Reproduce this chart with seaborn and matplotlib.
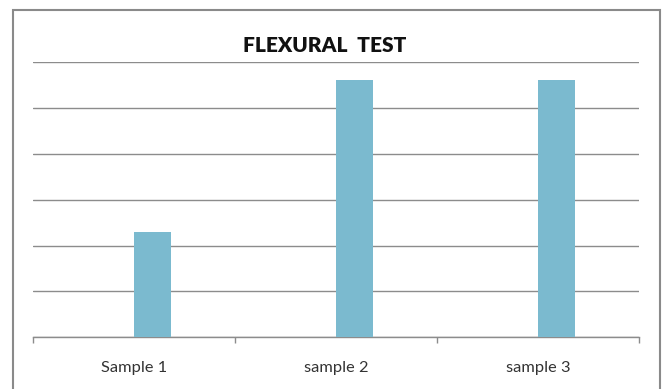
import matplotlib
matplotlib.use("Agg")
import matplotlib.pyplot as plt
from matplotlib.patches import Rectangle
from matplotlib.ticker import FixedLocator, MultipleLocator
import numpy as np
import pandas as pd
import seaborn as sns

# Flexural test results per sample
samples = ["Sample 1", "sample 2", "sample 3"]
flexural = [2.3, 5.6, 5.6]
# empty companion series that only reserves the left slot of each cluster
companion = [np.nan, np.nan, np.nan]
series_names = ["companion", "flexural"]

title = "FLEXURAL  TEST"

df = pd.DataFrame({
    "sample": samples * 2,
    "series": [series_names[0]] * 3 + [series_names[1]] * 3,
    "value": companion + flexural,
})

sns.set_theme(style="white")
plt.rcParams["font.family"] = ["Lato", "DejaVu Sans"]

W, H = 664, 389
fig = plt.figure(figsize=(W / 100, H / 100), dpi=100)
fig.patch.set_facecolor("white")
ax = fig.add_axes([33 / W, 1 - 337.3 / H, (639 - 33) / W, (337.3 - 62) / H])

sns.barplot(data=df, x="sample", y="value", hue="series", hue_order=series_names,
            order=samples, palette=["#7BBACF", "#7BBACF"], width=0.366,
            dodge=True, legend=False, saturation=1, errorbar=None, ax=ax)

ax.set_xlim(-0.5, 2.5)
ax.set_ylim(0, 6)
ax.yaxis.set_major_locator(MultipleLocator(1))
ax.set_yticklabels([])
ax.tick_params(axis="y", length=0)
ax.grid(axis="y", color="#8c8c8c", linewidth=1.0)
ax.set_axisbelow(True)
for b in ax.patches:
    b.set_edgecolor("none")
    b.set_zorder(3)

for side in ["top", "right", "left"]:
    ax.spines[side].set_visible(False)
ax.spines["bottom"].set_color("#8c8c8c")
ax.spines["bottom"].set_linewidth(1.0)

ax.set_xlabel("")
ax.set_ylabel("")
ax.xaxis.set_minor_locator(FixedLocator([-0.5, 0.5, 1.5, 2.5]))
ax.tick_params(axis="x", which="minor", bottom=True, length=4, width=1.0,
               color="#8c8c8c", direction="out")
ax.tick_params(axis="x", which="major", bottom=False, length=0, pad=17,
               labelsize=11.8, labelcolor="#333333")

fig.text(325 / W, 1 - 45 / H, title, ha="center", va="center",
         fontsize=15, fontweight="heavy", color="#111111")

# chart frame
fig.patches.append(Rectangle((13 / W, -0.05), (659.5 - 13) / W, 1.05 - 9.5 / H,
                             transform=fig.transFigure, fill=False,
                             edgecolor="#8a8a8a", linewidth=1.5))

fig.savefig("out.png", dpi=100, facecolor="white")
